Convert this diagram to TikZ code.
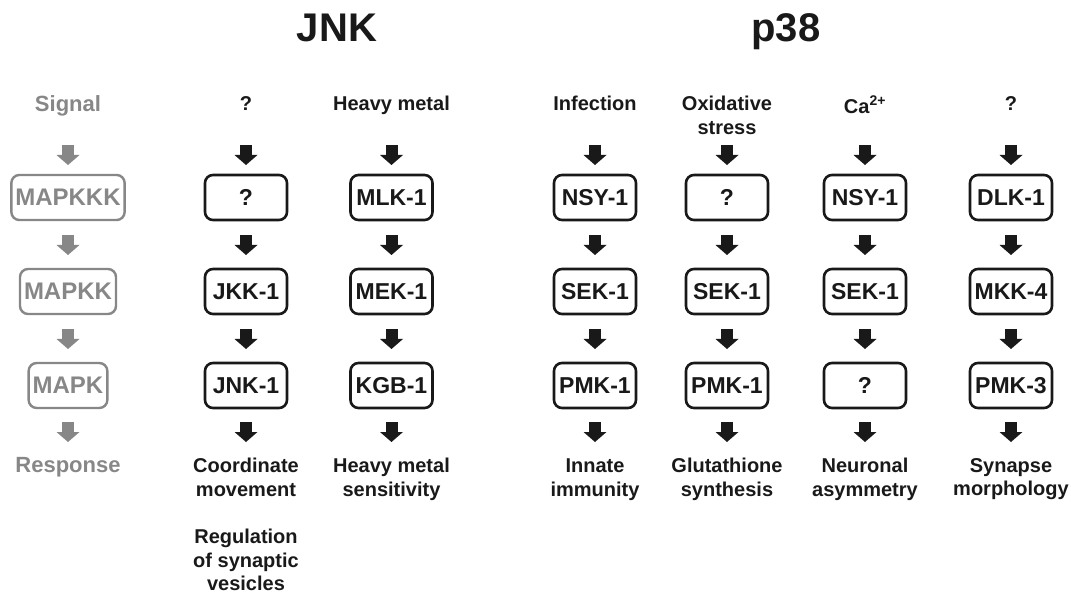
\documentclass[tikz,border=0pt]{standalone}
\usepackage{fontspec}
\setmainfont{Liberation Sans}
\usepackage{xcolor}
\definecolor{mapgray}{RGB}{135,135,135}
\definecolor{inkblack}{RGB}{25,25,25}
\usetikzlibrary{arrows.meta,positioning}

\begin{document}
\begin{tikzpicture}[x=1pt,y=-1pt,node distance=49pt]
  \tikzstyle{kinase}=[rectangle,rounded corners=8pt,draw=inkblack,text=inkblack,line width=2.6pt,minimum width=82pt,minimum height=45pt,inner sep=0pt,outer sep=0pt,font=\fontsize{23}{27}\selectfont\bfseries]
  \tikzstyle{module}=[kinase,draw=mapgray,text=mapgray,line width=2.4pt,minimum width=0pt,inner xsep=4pt,font=\fontsize{24}{28}\selectfont\bfseries]
  \tikzstyle{cue}=[inner sep=0pt,align=center,text=inkblack,font=\fontsize{20}{23.5}\selectfont\bfseries]
  \tikzstyle{graycue}=[cue,text=mapgray,font=\fontsize{22}{26}\selectfont\bfseries]
  \tikzstyle{title}=[inner sep=0pt,anchor=base,text=inkblack,font=\fontsize{40}{48}\selectfont\bfseries]
  \tikzstyle{blockarrow}=[draw=inkblack,line width=12pt,-{Triangle[width=23pt,length=10pt,line width=0pt]}]
  \tikzstyle{inarrow}=[blockarrow,shorten <=49pt,shorten >=10pt]
  \tikzstyle{linkarrow}=[blockarrow,shorten <=15pt,shorten >=14pt]
  \tikzstyle{outarrow}=[blockarrow,shorten <=14pt,shorten >=16pt]
  \useasboundingbox (0,0) rectangle (1071,593);

  % titles
  \node[title] (jnk) at (337,42) {JNK};
  \node[title] (p38) at (786,42) {p38};

  % generic cascade
  \node[graycue,anchor=north] (sigg) at (68,95) {Signal};
  \node[module] (kkkg) at (68,197.5) {MAPKKK};
  \node[module,below=of kkkg] (kkg) {MAPKK};
  \node[module,below=of kkg] (kg) {MAPK};
  \node[graycue,below=49pt of kg] (respg) {Response};
  \draw[inarrow,draw=mapgray,shorten <=50pt] (sigg.north) -- (kkkg.north);
  \draw[linkarrow,draw=mapgray] (kkkg) -- (kkg);
  \draw[linkarrow,draw=mapgray] (kkg) -- (kg);
  \draw[outarrow,draw=mapgray,shorten >=15pt] (kg.south) -- (respg.north);

  % JNK
  \node[cue,anchor=north] (siga) at (246,96) {?};
  \node[kinase] (kkka) at (246,197.5) {?};
  \node[kinase,below=of kkka] (kka) {JKK-1};
  \node[kinase,below=of kka] (ka) {JNK-1};
  \node[cue,below=50pt of ka] (respa) {Coordinate\\movement};
  \node[cue,anchor=north] (respa2) at (246,529) {Regulation\\of synaptic\\vesicles};
  \draw[inarrow] (siga.north) -- (kkka.north);
  \draw[linkarrow] (kkka) -- (kka);
  \draw[linkarrow] (kka) -- (ka);
  \draw[outarrow] (ka.south) -- (respa.north);

  \node[cue,anchor=north] (sigb) at (391.5,96) {Heavy metal};
  \node[kinase] (kkkb) at (391.5,197.5) {MLK-1};
  \node[kinase,below=of kkkb] (kkb) {MEK-1};
  \node[kinase,below=of kkb] (kb) {KGB-1};
  \node[cue,below=50pt of kb] (respb) {Heavy metal\\sensitivity};
  \draw[inarrow] (sigb.north) -- (kkkb.north);
  \draw[linkarrow] (kkkb) -- (kkb);
  \draw[linkarrow] (kkb) -- (kb);
  \draw[outarrow] (kb.south) -- (respb.north);

  % p38
  \node[cue,anchor=north] (sigc) at (595,96) {Infection};
  \node[kinase] (kkkc) at (595,197.5) {NSY-1};
  \node[kinase,below=of kkkc] (kkc) {SEK-1};
  \node[kinase,below=of kkc] (kc) {PMK-1};
  \node[cue,below=51pt of kc] (respc) {Innate\\immunity};
  \draw[inarrow] (sigc.north) -- (kkkc.north);
  \draw[linkarrow] (kkkc) -- (kkc);
  \draw[linkarrow] (kkc) -- (kc);
  \draw[outarrow,shorten >=17pt] (kc.south) -- (respc.north);

  \node[cue,anchor=north] (sigd) at (727,96) {Oxidative\\stress};
  \node[kinase] (kkkd) at (727,197.5) {?};
  \node[kinase,below=of kkkd] (kkd) {SEK-1};
  \node[kinase,below=of kkd] (kd) {PMK-1};
  \node[cue,below=50pt of kd] (respd) {Glutathione\\synthesis};
  \draw[inarrow] (sigd.north) -- (kkkd.north);
  \draw[linkarrow] (kkkd) -- (kkd);
  \draw[linkarrow] (kkd) -- (kd);
  \draw[outarrow] (kd.south) -- (respd.north);

  \node[cue,anchor=north] (sige) at (865,96) {Ca\textsuperscript{2+}};
  \node[kinase] (kkke) at (865,197.5) {NSY-1};
  \node[kinase,below=of kkke] (kke) {SEK-1};
  \node[kinase,below=of kke] (ke) {?};
  \node[cue,below=50pt of ke] (respe) {Neuronal\\asymmetry};
  \draw[inarrow] (sige.north) -- (kkke.north);
  \draw[linkarrow] (kkke) -- (kke);
  \draw[linkarrow] (kke) -- (ke);
  \draw[outarrow] (ke.south) -- (respe.north);

  \node[cue,anchor=north] (sigf) at (1011,96) {?};
  \node[kinase] (kkkf) at (1011,197.5) {DLK-1};
  \node[kinase,below=of kkkf] (kkf) {MKK-4};
  \node[kinase,below=of kkf] (kf) {PMK-3};
  \node[cue,below=50pt of kf] (respf) {Synapse\\morphology};
  \draw[inarrow] (sigf.north) -- (kkkf.north);
  \draw[linkarrow] (kkkf) -- (kkf);
  \draw[linkarrow] (kkf) -- (kf);
  \draw[outarrow] (kf.south) -- (respf.north);
\end{tikzpicture}
\end{document}
